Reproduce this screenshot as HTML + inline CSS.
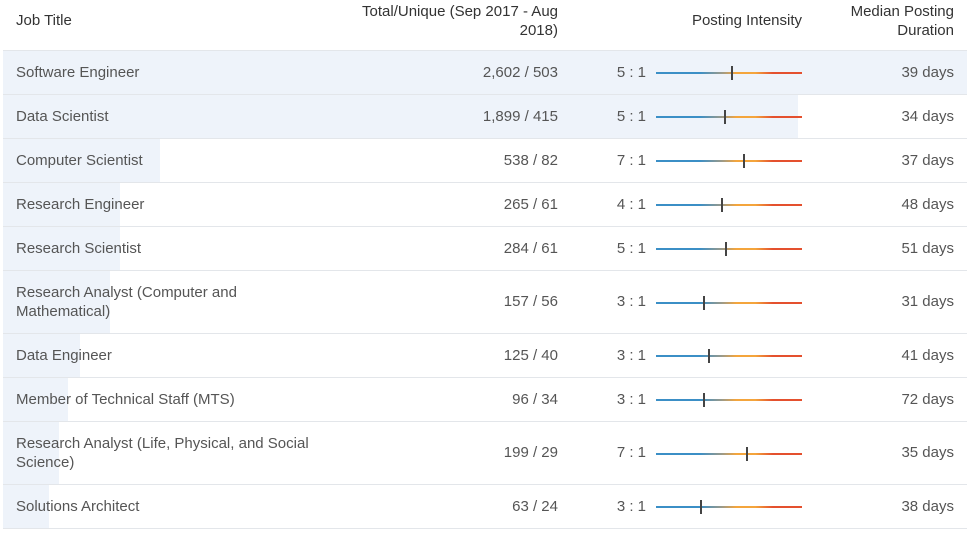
<!DOCTYPE html>
<html><head><meta charset="utf-8"><style>
body{margin:0;background:#fff;font-family:"Liberation Sans",sans-serif;color:#555;}
#wrap{position:relative;width:974px;height:533px;overflow:hidden;}
.hd{position:absolute;font-size:15px;color:#333;line-height:19px;}
.row{position:absolute;left:3px;width:964px;border-bottom:1px solid #e3e6ea;}
.bg{position:absolute;left:0;top:0;bottom:0;background:#eef3fa;}
.t{position:absolute;font-size:15px;line-height:19px;color:#555;}
</style></head><body>
<div id="wrap">
<div class="hd" style="left:16px;top:11px">Job Title</div>
<div class="hd" style="right:416px;top:2px;text-align:right">Total/Unique (Sep 2017 - Aug<br>2018)</div>
<div class="hd" style="right:172px;top:11px">Posting Intensity</div>
<div class="hd" style="right:20px;top:2px;text-align:right">Median Posting<br>Duration</div>
<div style="position:absolute;left:3px;top:50px;width:964px;border-top:1px solid #e3e6ea"></div>
</div>
<script>
const titles=["Software Engineer","Data Scientist","Computer Scientist","Research Engineer","Research Scientist","Research Analyst (Computer and<br>Mathematical)","Data Engineer","Member of Technical Staff (MTS)","Research Analyst (Life, Physical, and Social<br>Science)","Solutions Architect"];
const totals=[2602,1899,538,265,284,157,125,96,199,63];
const uniques=[503,415,82,61,61,56,40,34,29,24];
const ratios=["5 : 1","5 : 1","7 : 1","4 : 1","5 : 1","3 : 1","3 : 1","3 : 1","7 : 1","3 : 1"];
const intensity=[0.52,0.47,0.60,0.45,0.48,0.33,0.36,0.33,0.62,0.31];
const days=[39,34,37,48,51,31,41,72,35,38];
const heights=[44,44,44,44,44,63,44,44,63,44];
const wrap=document.getElementById('wrap');
const maxU=Math.max(...uniques);
let y=51;
titles.forEach((t,i)=>{
  const h=heights[i];
  const r=document.createElement('div');r.className='row';
  
  
  r.style.top=y+'px';r.style.height=(h-1)+'px';
  const bg=document.createElement('div');bg.className='bg';
  
  
  bg.style.width=(uniques[i]/maxU*964)+'px';r.appendChild(bg);
  const mid=h/2;
  const tl=document.createElement('div');tl.className='t';tl.innerHTML=t;
  
  
  const lines=t.includes('<br>')?2:1;
  tl.style.left='13px';tl.style.top=(mid-lines*9.5-1)+'px';r.appendChild(tl);
  const tot=document.createElement('div');tot.className='t';
  
  
  tot.textContent=totals[i].toLocaleString('en-US')+' / '+uniques[i];
  tot.style.right='409px';tot.style.top=(mid-10.5)+'px';r.appendChild(tot);
  const ra=document.createElement('div');ra.className='t';
  
  
  ra.textContent=ratios[i];ra.style.right='321px';ra.style.top=(mid-10.5)+'px';r.appendChild(ra);
  const ln=document.createElement('div');
  
  
  ln.style.cssText=`position:absolute;left:653px;width:146px;height:2px;top:${mid-1}px;background:linear-gradient(90deg,#3b8fc6 0%,#3b8fc6 30%,#9a9a8a 45%,#f4a53c 55%,#f4a53c 68%,#e4502e 80%,#e4502e 100%)`;
  r.appendChild(ln);
  const mk=document.createElement('div');
  
  
  mk.style.cssText=`position:absolute;width:2px;height:14px;background:#444;top:${mid-7}px;left:${653+intensity[i]*146-1}px`;
  r.appendChild(mk);
  const d=document.createElement('div');d.className='t';
  
  
  d.textContent=days[i]+' days';d.style.right='13px';d.style.top=(mid-10.5)+'px';r.appendChild(d);
  wrap.appendChild(r);y+=h;
});
</script>
</body></html>
